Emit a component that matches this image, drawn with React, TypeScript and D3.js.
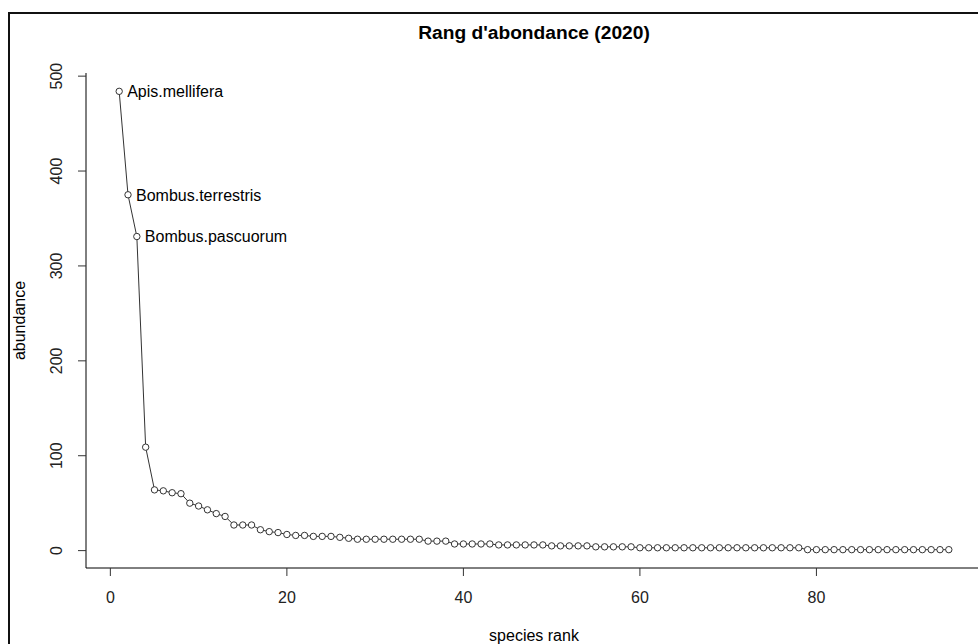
import React from 'react';
import * as d3 from 'd3';

const width = 978;
const height = 644;
const margin = { top: 73, right: -4, bottom: 76, left: 86 };

// abundance per species, sorted by rank (1..95)
const abundance = [
  484, 375, 331, 109, 64, 63, 61, 60, 50, 47,
  43, 39, 36, 27, 27, 27, 22, 20, 19, 17,
  16, 16, 15, 15, 15, 14, 13, 12, 12, 12,
  12, 12, 12, 12, 12, 10, 10, 10, 7, 7,
  7, 7, 7, 6, 6, 6, 6, 6, 6, 5,
  5, 5, 5, 5, 4, 4, 4, 4, 4, 3,
  3, 3, 3, 3, 3, 3, 3, 3, 3, 3,
  3, 3, 3, 3, 3, 3, 3, 3, 1, 1,
  1, 1, 1, 1, 1, 1, 1, 1, 1, 1,
  1, 1, 1, 1, 1,
];
const topSpecies = ['Apis.mellifera', 'Bombus.terrestris', 'Bombus.pascuorum'];
const xTicks = [0, 20, 40, 60, 80];
const yTicks = [0, 100, 200, 300, 400, 500];

const font = "'Liberation Sans', Arial, sans-serif";

const App = () => {
  const points = abundance.map((v, i) => ({ rank: i + 1, value: v }));

  // R-style 4% padding around data range
  const xExt = d3.extent(points, d => d.rank) as [number, number];
  const yExt = d3.extent(points, d => d.value) as [number, number];
  const xPad = (xExt[1] - xExt[0]) * 0.04;
  const yPad = (yExt[1] - yExt[0]) * 0.04;

  const x = d3.scaleLinear()
    .domain([xExt[0] - xPad, xExt[1] + xPad])
    .range([margin.left, width - margin.right]);
  const y = d3.scaleLinear()
    .domain([yExt[0] - yPad, yExt[1] + yPad])
    .range([height - margin.bottom, margin.top]);

  const line = d3.line<{ rank: number; value: number }>()
    .x(d => x(d.rank))
    .y(d => y(d.value));

  const bottom = height - margin.bottom;
  const left = margin.left;
  const cx = (margin.left + width - margin.right) / 2;
  const cy = (margin.top + bottom) / 2;

  return (
    <div style={{ position: 'absolute', left: 0, top: 0 }}>
      <svg width={width} height={height} style={{ display: 'block', background: '#fff', fontFamily: font }}>
        {/* outer frame */}
        <line x1={9} y1={12} x2={9} y2={height} stroke="#111" strokeWidth={2} />
        <line x1={8} y1={13} x2={width} y2={13} stroke="#111" strokeWidth={2} />

        <text x={cx} y={39} textAnchor="middle" fontSize={19.2} fontWeight="bold" fill="#000">
          Rang d'abondance (2020)
        </text>

        {/* L-shaped box */}
        <path d={`M${left},${margin.top}V${bottom}H${width}`} fill="none" stroke="#000" strokeWidth={1} />

        {/* y axis */}
        <g>
          {yTicks.map(t => (
            <g key={t} transform={`translate(0,${y(t)})`}>
              <line x1={left - 8} x2={left} stroke="#333" />
              <text transform={`translate(${left - 24},0) rotate(-90)`} textAnchor="middle" fontSize={16} fill="#222">
                {t}
              </text>
            </g>
          ))}
          <text transform={`translate(25,${cy}) rotate(-90)`} textAnchor="middle" fontSize={16} fill="#000">
            abundance
          </text>
        </g>

        {/* x axis */}
        <g>
          {xTicks.map(t => (
            <g key={t} transform={`translate(${x(t)},0)`}>
              <line y1={bottom} y2={bottom + 8} stroke="#333" />
              <text y={bottom + 35} textAnchor="middle" fontSize={16} fill="#222">
                {t}
              </text>
            </g>
          ))}
          <text x={cx} y={641} textAnchor="middle" fontSize={16} fill="#000">
            species rank
          </text>
        </g>

        <path d={line(points) || ''} fill="none" stroke="#333" strokeWidth={1} />
        {points.map(d => (
          <circle key={d.rank} cx={x(d.rank)} cy={y(d.value)} r={3.2} fill="#fff" stroke="#333" strokeWidth={1} />
        ))}

        {topSpecies.map((name, i) => (
          <text key={name} x={x(points[i].rank) + 8} y={y(points[i].value)} dy="0.36em" fontSize={16} fill="#000">
            {name}
          </text>
        ))}
      </svg>
    </div>
  );
};

export default App;
